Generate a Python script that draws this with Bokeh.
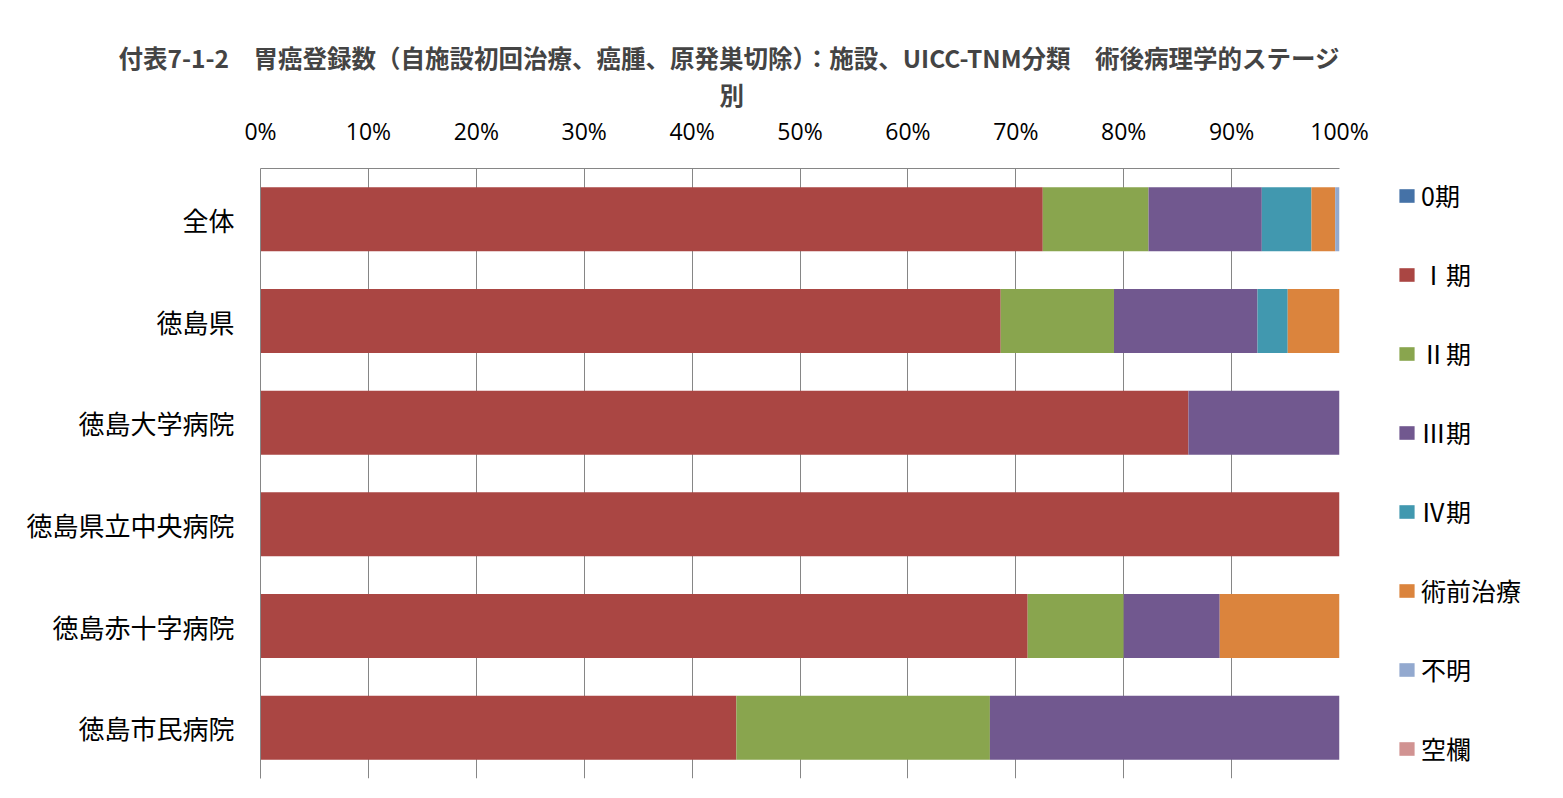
from bokeh.plotting import figure
from bokeh.models import FactorRange, Range1d, FixedTicker, PrintfTickFormatter, Legend, LegendItem, ColumnDataSource, Title
from bokeh.embed import file_html
from bokeh.resources import INLINE

categories = ["全体", "徳島県", "徳島大学病院", "徳島県立中央病院", "徳島赤十字病院", "徳島市民病院"]
series = ["0期", "Ⅰ期", "Ⅱ期", "Ⅲ期", "Ⅳ期", "術前治療", "不明", "空欄"]
stage0 = [0, 0, 0, 0, 0, 0]
stage1 = [72.5, 68.6, 86.0, 100.0, 71.1, 44.1]
stage2 = [9.8, 10.5, 0, 0, 8.9, 23.5]
stage3 = [10.5, 13.3, 14.0, 0, 8.9, 32.4]
stage4 = [4.6, 2.8, 0, 0, 0, 0]
preop = [2.2, 4.8, 0, 0, 11.1, 0]
unknown = [0.4, 0, 0, 0, 0, 0]
blank = [0, 0, 0, 0, 0, 0]
colors = ["#4572A7", "#AA4643", "#89A54E", "#71588F", "#4198AF", "#DB843D", "#93A9CF", "#D19392"]
x_ticks = list(range(0, 101, 10))
title_line1 = "付表7-1-2\u3000胃癌登録数（自施設初回治療、癌腫、原発巣切除）：施設、UICC-TNM分類\u3000術後病理学的ステージ"
title_line2 = "別"

values = [stage0, stage1, stage2, stage3, stage4, preop, unknown, blank]
data = {"cat": categories}
for name, vals in zip(series, values):
    data[name] = vals
source = ColumnDataSource(data)

p = figure(frame_width=1079, frame_height=610, output_backend="svg", toolbar_location=None,
           y_range=FactorRange(factors=list(reversed(categories))),
           x_range=Range1d(0, 100), x_axis_location="above")
p.min_border_left = 260
p.min_border_right = 224
p.min_border_top = 168
p.min_border_bottom = 20

renderers = p.hbar_stack(series, y="cat", height=0.63, color=colors, source=source,
                         line_color=None)

legend = Legend(items=[LegendItem(label=s, renderers=[r]) for s, r in zip(series, renderers)],
                location=(58, 12))
legend.label_text_font = "Noto Sans CJK JP"
legend.label_text_font_size = "25px"
legend.label_text_color = "black"
legend.glyph_width = 19
legend.glyph_height = 17
legend.label_standoff = 5
legend.spacing = 43
legend.padding = 0
legend.margin = 0
legend.border_line_color = None
legend.background_fill_color = None
legend.background_fill_alpha = 0
p.add_layout(legend, "right")

sub = Title(text=title_line2, align="left", offset=459, text_font="Noto Sans CJK JP",
            text_font_style="bold", text_font_size="24.5px", standoff=0)
p.add_layout(sub, "above")

p.title.text = title_line1
p.title.text_font = "Noto Sans CJK JP"
p.title.text_font_style = "bold"
p.title.text_font_size = "24.5px"
p.title.align = "left"
p.title.offset = -142
p.title.standoff = 0

xa = p.xaxis[0]
xa.ticker = FixedTicker(ticks=x_ticks)
xa.formatter = PrintfTickFormatter(format="%d%%")
xa.axis_line_color = "#868686"
xa.major_tick_line_color = None
xa.minor_tick_line_color = None
xa.major_label_text_font = "Open Sans"
xa.major_label_text_font_size = "23px"
xa.major_label_text_color = "black"
xa.major_label_standoff = 16

ya = p.yaxis[0]
ya.axis_line_color = "#868686"
ya.major_tick_line_color = None
ya.minor_tick_line_color = None
ya.major_label_text_font = "Noto Sans CJK JP"
ya.major_label_text_font_size = "26px"
ya.major_label_text_color = "black"
ya.major_label_standoff = 20

p.xgrid.ticker = FixedTicker(ticks=x_ticks)
p.xgrid.grid_line_color = "#868686"
p.xgrid.grid_line_width = 1
p.ygrid.grid_line_color = None
p.outline_line_color = None
p.background_fill_color = "white"
p.border_fill_color = "white"

open("out.html", "w").write(file_html(p, INLINE))
